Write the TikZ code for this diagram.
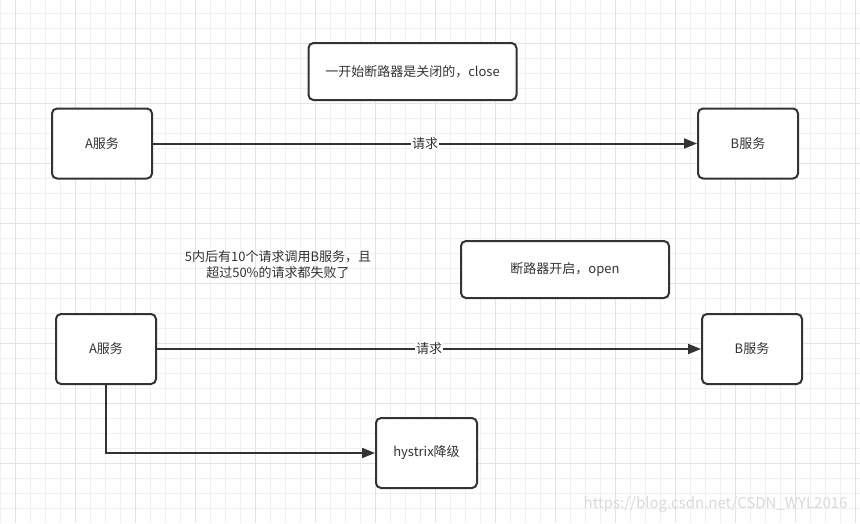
\documentclass[tikz,border=0pt]{standalone}
\usepackage{fontspec}
\setmainfont{Noto Sans CJK SC}
\usepackage{tikz}
\usetikzlibrary{arrows.meta,positioning}
\definecolor{ink}{HTML}{333333}
\definecolor{gridminor}{HTML}{F0F0F0}
\definecolor{gridmajor}{HTML}{E3E3E3}
\definecolor{mark}{HTML}{D9D9D9}

\begin{document}
\begin{tikzpicture}[
    x=1pt, y=-1pt,
    node distance=544pt,
    font=\fontsize{13}{16}\selectfont,
    service/.style={draw=ink, line width=2pt, rounded corners=5pt, fill=white, text=ink, minimum width=100pt, minimum height=70pt, align=center},
    note/.style={draw=ink, line width=2pt, rounded corners=5pt, fill=white, text=ink, minimum width=208pt, minimum height=57pt, align=center},
    edge/.style={-{Triangle[length=13pt,width=10pt]}, line width=2pt, draw=ink},
    tag/.style={fill=white, text=ink, inner sep=1pt}
]
\useasboundingbox (0,0) rectangle (860,523);
\fill[white] (0,0) rectangle (860,523);
% grid
\foreach \gx in {0.7,15.7,...,860} \draw[gridminor, line width=1pt] (\gx,0) -- (\gx,523);
\foreach \gy in {13.3,28.3,...,523} \draw[gridminor, line width=1pt] (0,\gy) -- (860,\gy);
\foreach \gx in {15.7,75.7,...,860} \draw[gridmajor, line width=1pt] (\gx,0) -- (\gx,523);
\foreach \gy in {43.3,103.3,...,523} \draw[gridmajor, line width=1pt] (0,\gy) -- (860,\gy);

% closed state
\node[note] (closed) at (412.5,71.5) {一开始断路器是关闭的，close};
\node[service] (svcA) at (102,143.5) {A服务};
\node[service, right=of svcA] (svcB) {B服务};
\draw[edge] (svcA) -- node[tag] {请求} (svcB);

% open state
\node[text=ink, align=center] (fail) at (278,264.5) {5内后有10个请求调用B服务，且\\超过50\%的请求都失败了};
\node[note] (opened) at (565,269.5) {断路器开启，open};
\node[service] (svcA2) at (106,349) {A服务};
\node[service, right=of svcA2] (svcB2) {B服务};
\node[service, minimum width=101pt] (fallback) at (426.5,453) {hystrix降级};
\draw[edge] (svcA2) -- node[tag] {请求} (svcB2);
\draw[edge] (svcA2.south) |- (fallback.west);

\node[text=mark, font=\fontsize{15}{17}\selectfont, anchor=east] (wm) at (851,504) {https://blog.csdn.net/CSDN\_WYL2016};
\end{tikzpicture}
\end{document}
